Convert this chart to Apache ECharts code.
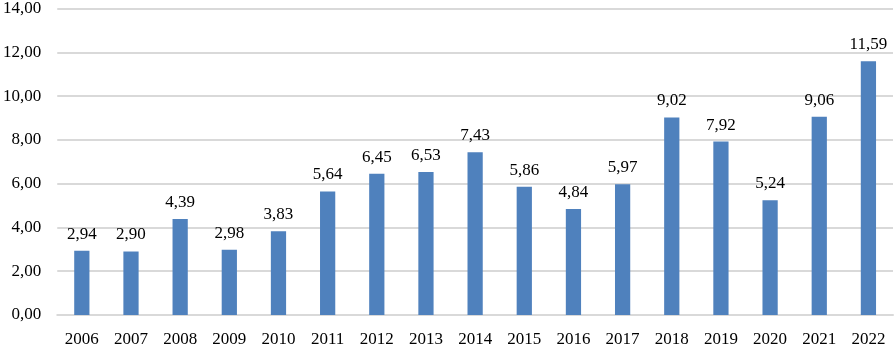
<!DOCTYPE html>
<html>
<head>
<meta charset="utf-8">
<script src="https://cdn.jsdelivr.net/npm/echarts@6/dist/echarts.min.js"></script>
<style>
  html, body { margin: 0; padding: 0; background: #fff; }
  #chart { width: 894px; height: 349px; }
</style>
</head>
<body>
<div id="chart"></div>
<script>
var years = ['2006', '2007', '2008', '2009', '2010', '2011', '2012', '2013', '2014',
    '2015', '2016', '2017', '2018', '2019', '2020', '2021', '2022'];
var values = [2.94, 2.90, 4.39, 2.98, 3.83, 5.64, 6.45, 6.53, 7.43,
    5.86, 4.84, 5.97, 9.02, 7.92, 5.24, 9.06, 11.59];

function comma(v) {
    return Number(v).toFixed(2).replace('.', ',');
}

var chart = echarts.init(document.getElementById('chart'));
chart.setOption({
    animation: false,
    textStyle: { fontFamily: 'Liberation Serif' },
    grid: { left: 55, right: 1, top: 5, bottom: 34 },
    xAxis: {
        type: 'category',
        data: years,
        axisTick: { show: false },
        axisLine: { lineStyle: { color: '#d9d9d9', width: 2 } },
        axisLabel: { color: '#000', fontSize: 17, margin: 16, fontFamily: 'Liberation Serif' }
    },
    yAxis: {
        type: 'value',
        min: 0,
        max: 14,
        interval: 2,
        axisLabel: {
            color: '#000', fontSize: 17, margin: 16, fontFamily: 'Liberation Serif',
            formatter: comma
        },
        splitLine: { lineStyle: { color: '#d9d9d9', width: 2 } }
    },
    series: [{
        type: 'bar',
        data: values,
        barWidth: '31%',
        itemStyle: { color: '#4f81bd' },
        label: {
            show: true,
            position: 'top',
            distance: 8,
            color: '#000',
            fontSize: 17,
            fontFamily: 'Liberation Serif',
            formatter: function (p) { return comma(p.value); }
        }
    }]
});
</script>
</body>
</html>
